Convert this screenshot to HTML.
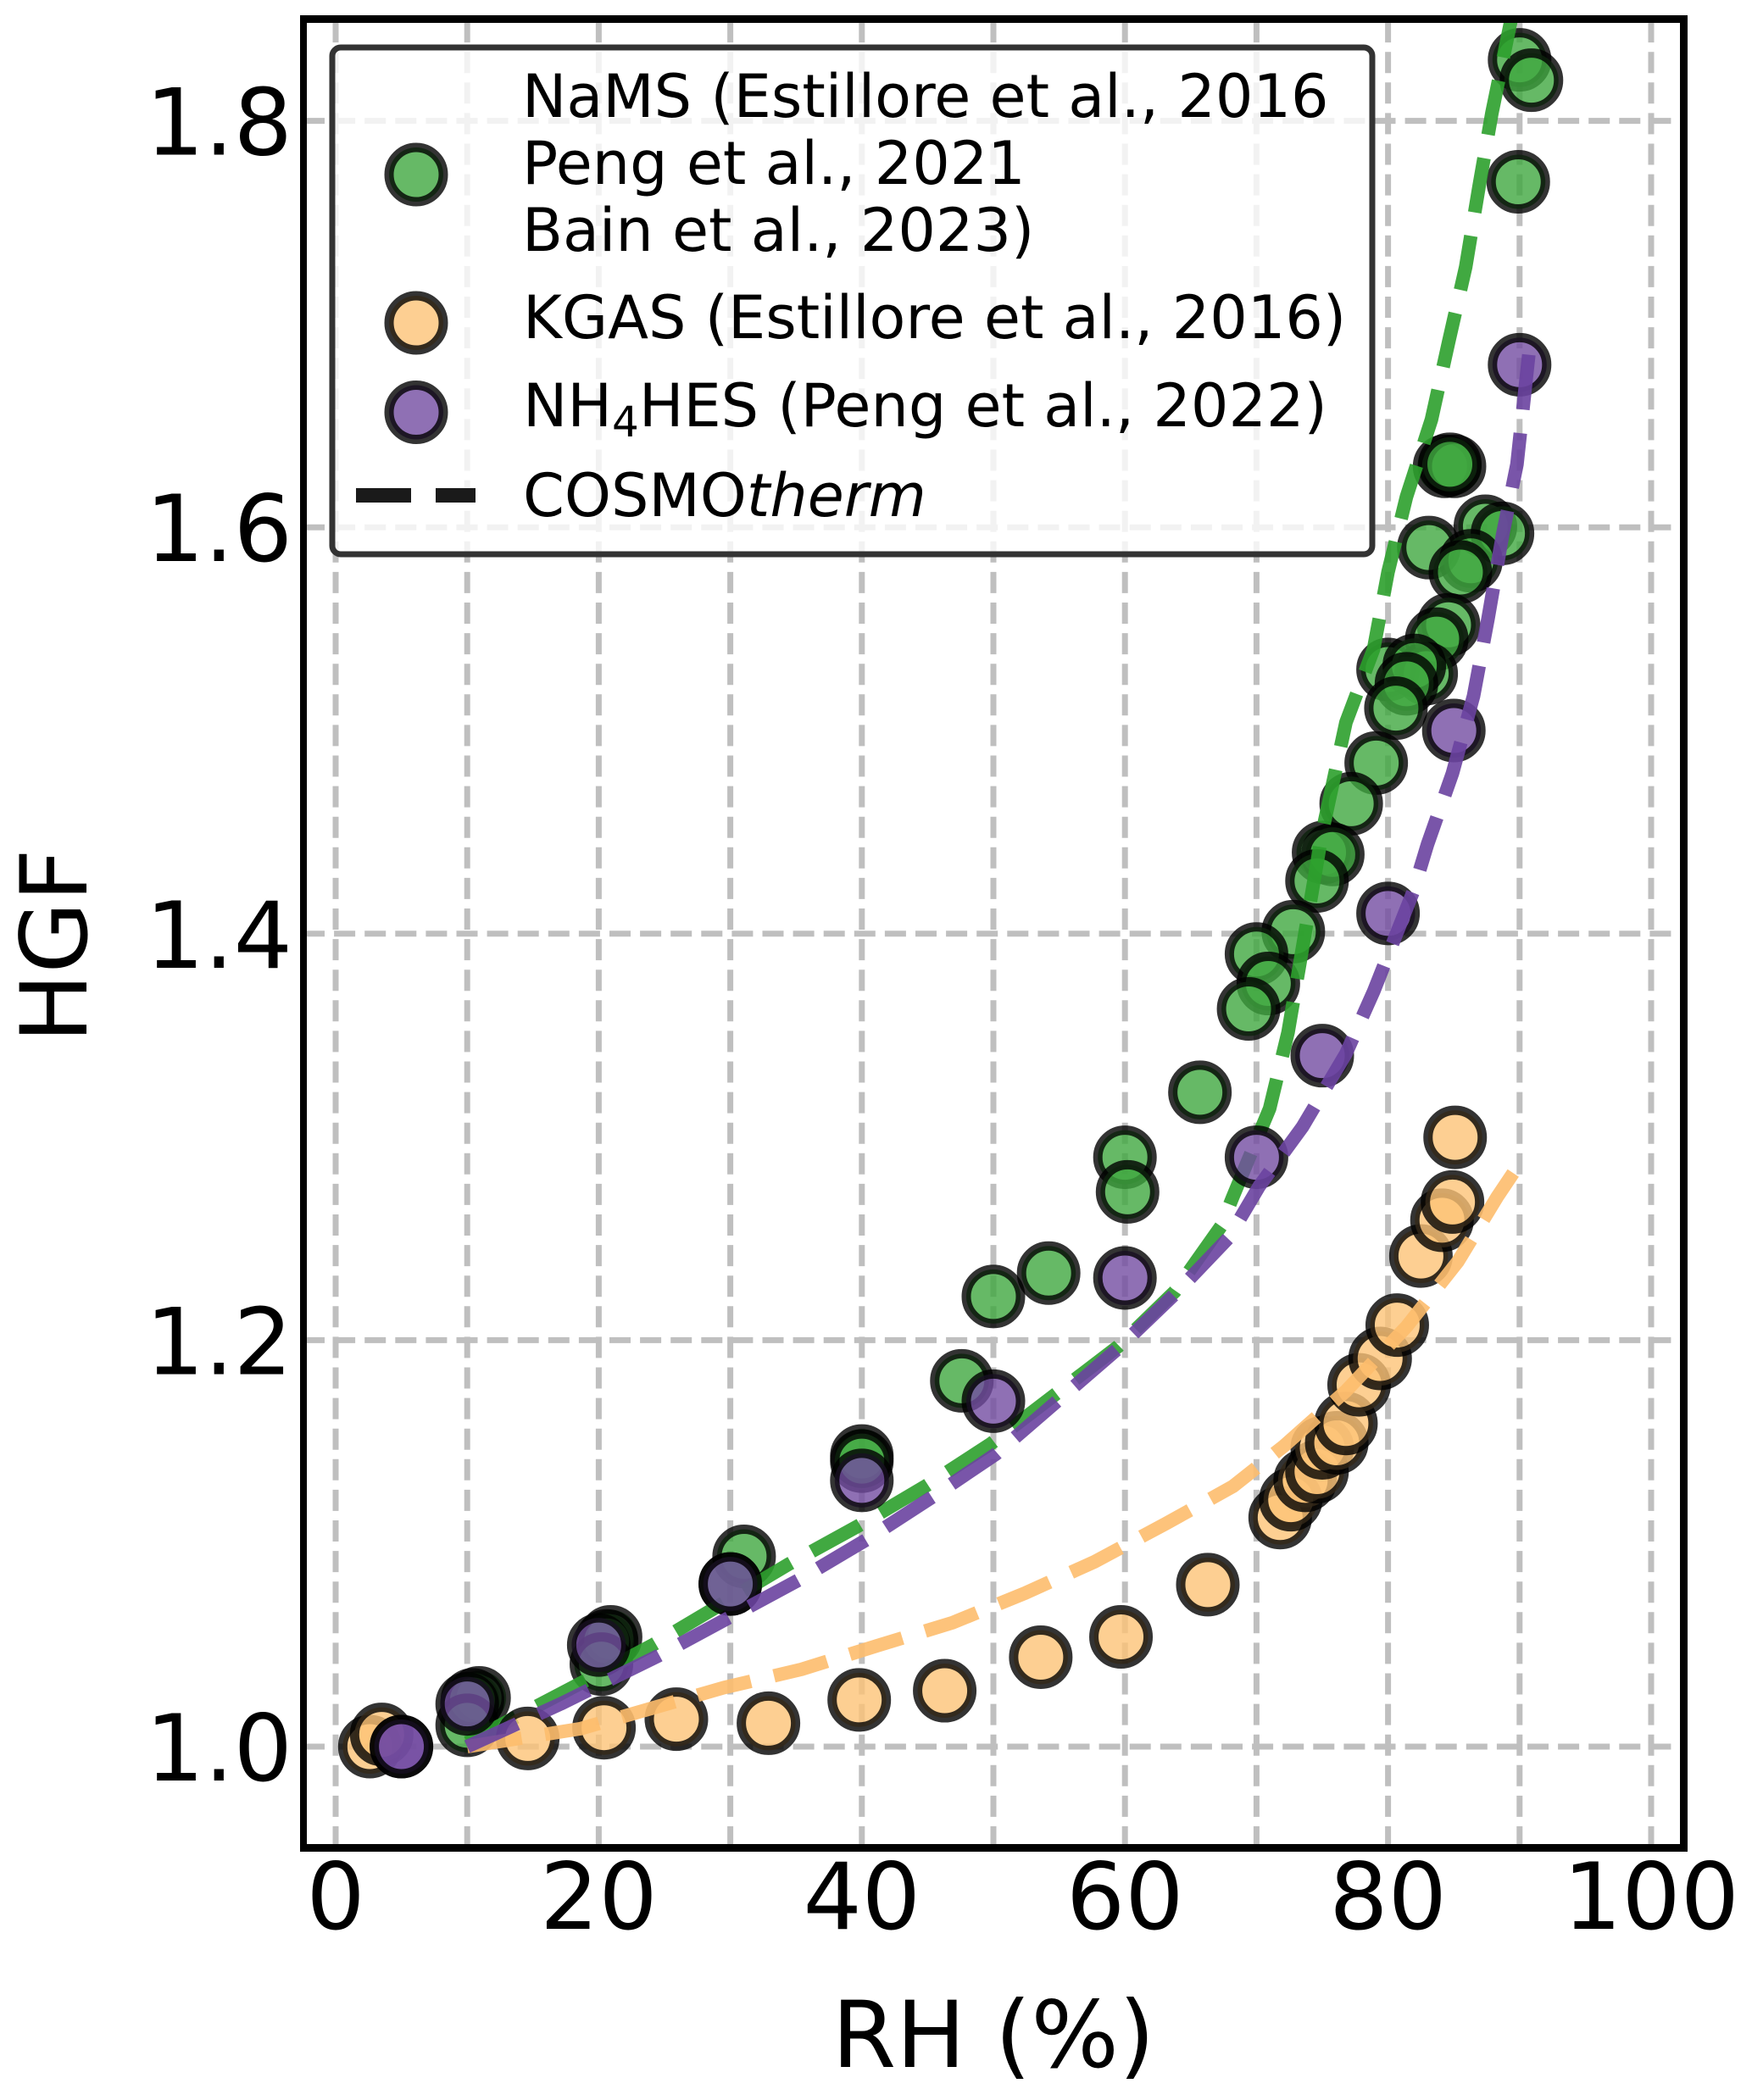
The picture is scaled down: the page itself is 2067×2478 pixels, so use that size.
<!DOCTYPE html>
<html lang="en">
<head>
<meta charset="utf-8">
<title>HGF vs RH</title>
<style>
html,body{margin:0;padding:0;background:#fff;}
svg{display:block;}
text{font-family:"DejaVu Sans","Liberation Sans",sans-serif;fill:#000;}
</style>
</head>
<body>
<svg id="chart" xmlns="http://www.w3.org/2000/svg" width="2067" height="2478" viewBox="0 0 2067 2478">
<defs><clipPath id="plot-clip"><rect x="358" y="23" width="1628" height="2157"/></clipPath></defs>
<rect x="0" y="0" width="2067" height="2478" fill="#fff"/>
<g id="grid"></g>
<g id="plot" clip-path="url(#plot-clip)"></g>
<g id="legend">
<rect x="392" y="56" width="1227" height="598" rx="10" ry="10" fill="#fff" fill-opacity="0.8" stroke="#333" stroke-width="7"/>
<circle cx="491" cy="206" r="32" fill="#40a840" fill-opacity="0.8" stroke="#000" stroke-opacity="0.8" stroke-width="11"/>
<circle cx="491" cy="381" r="32" fill="#fdc377" fill-opacity="0.8" stroke="#000" stroke-opacity="0.8" stroke-width="11"/>
<circle cx="491" cy="486.5" r="32" fill="#734ca1" fill-opacity="0.8" stroke="#000" stroke-opacity="0.8" stroke-width="11"/>
<line x1="420" y1="584.5" x2="561" y2="584.5" stroke="#1a1a1a" stroke-width="17" stroke-dasharray="65 29"/>
<text x="616" y="138" font-size="70">NaMS (Estillore et al., 2016</text>
<text x="616" y="217" font-size="70">Peng et al., 2021</text>
<text x="616" y="296" font-size="70">Bain et al., 2023)</text>
<text x="617" y="399" font-size="70">KGAS (Estillore et al., 2016)</text>
<text x="617" y="503" font-size="70">NH<tspan font-size="50" dy="12">4</tspan><tspan dy="-12">HES (Peng et al., 2022)</tspan></text>
<text x="617" y="609" font-size="70">COSMO<tspan font-style="italic">therm</tspan></text>
</g>
<g id="spines">
<rect x="354" y="18" width="8" height="2167" fill="#000"/>
<rect x="1982" y="18" width="9" height="2167" fill="#000"/>
<rect x="354" y="18" width="1637" height="9" fill="#000"/>
<rect x="354" y="2176" width="1637" height="9" fill="#000"/>
</g>
<g id="ticks"></g>
<text x="1172" y="2439" font-size="109" text-anchor="middle">RH (%)</text>
<text transform="translate(102,1116) rotate(-90)" font-size="109" text-anchor="middle">HGF</text>
</svg>
<script>
const xTicks = [0, 20, 40, 60, 80, 100];
const yTicks = [1.0, 1.2, 1.4, 1.6, 1.8];
const xGrid = [0, 10, 20, 30, 40, 50, 60, 70, 80, 90, 100];
const yGrid = [1.0, 1.2, 1.4, 1.6, 1.8];

const namsRH = [90.0, 90.9, 89.9, 84.3, 85.05, 84.7, 87.4, 88.7, 83.1, 86.3, 85.5, 84.6, 83.7, 80.0, 82.9, 82.0, 81.4, 80.6, 79.1, 77.2, 75.1, 75.8, 74.6, 72.8, 70.0, 70.9, 69.4, 65.7, 60.0, 60.2, 54.2, 50.0, 47.6, 40.0, 40.0, 31.05, 30.0, 20.9, 20.6, 20.2, 10.9, 10.4, 10.0];
const namsHGF = [1.830, 1.820, 1.770, 1.630, 1.630, 1.631, 1.6005, 1.597, 1.590, 1.5835, 1.578, 1.552, 1.545, 1.530, 1.528, 1.532, 1.523, 1.511, 1.484, 1.464, 1.440, 1.439, 1.426, 1.401, 1.390, 1.3755, 1.363, 1.322, 1.290, 1.273, 1.233, 1.2215, 1.180, 1.143, 1.1405, 1.0936, 1.080, 1.054, 1.052, 1.0406, 1.024, 1.023, 1.0105];

const kgasRH = [2.6, 3.5, 14.6, 20.4, 25.9, 32.9, 39.8, 46.3, 53.6, 59.7, 66.3, 71.8, 72.6, 73.7, 74.6, 75.0, 76.1, 76.8, 77.8, 79.4, 80.7, 82.5, 84.1, 84.9, 85.1];
const kgasHGF = [1.000, 1.006, 1.004, 1.0093, 1.0135, 1.0115, 1.023, 1.0275, 1.044, 1.054, 1.0797, 1.1127, 1.1215, 1.131, 1.1353, 1.147, 1.1495, 1.159, 1.178, 1.191, 1.2074, 1.2414, 1.259, 1.268, 1.2998];

const hesRH = [90.0, 85.0, 80.0, 75.0, 70.0, 60.0, 50.0, 40.0, 30.0, 20.0, 10.0, 5.0, 5.0];
const hesHGF = [1.680, 1.500, 1.410, 1.340, 1.290, 1.2306, 1.170, 1.131, 1.080, 1.050, 1.021, 1.000, 1.000];

const modelNamsRH = [10, 17.1, 24.1, 34.5, 39.7, 44.8, 49.8, 59.5, 63.8, 67.3, 68.2, 71, 72.4, 75, 76.8, 78.9, 80, 81.4, 83.3, 84.6, 85.9, 86.9, 87.9, 89.3, 90];
const modelNamsHGF = [1.002, 1.026, 1.050, 1.090, 1.1085, 1.128, 1.149, 1.197, 1.224, 1.256, 1.2705, 1.314, 1.3515, 1.450, 1.504, 1.540, 1.578, 1.615, 1.653, 1.691, 1.728, 1.767, 1.804, 1.848, 1.875];

const modelKgasRH = [10, 18.6, 29.5, 35.4, 41.1, 46.9, 52.4, 57.7, 63.1, 68.2, 72.1, 76.8, 81.4, 85.3, 88.3, 89.8];
const modelKgasHGF = [1.000, 1.0088, 1.029, 1.038, 1.0495, 1.061, 1.0755, 1.091, 1.1097, 1.128, 1.148, 1.175, 1.2066, 1.2386, 1.2705, 1.285];

const modelHesRH = [10, 17.1, 24.5, 35.2, 40.4, 45.4, 50.2, 59.5, 63.8, 67.9, 70.2, 73.5, 76.8, 78.9, 81.9, 83, 84.9, 86.5, 87.6, 88.7, 89.8, 90.7];
const modelHesHGF = [1.000, 1.021, 1.0446, 1.082, 1.102, 1.123, 1.144, 1.196, 1.2227, 1.2505, 1.2757, 1.305, 1.341, 1.3715, 1.4205, 1.444, 1.479, 1.517, 1.555, 1.596, 1.631, 1.685];

const NS = 'http://www.w3.org/2000/svg';
function xScale(v) { return 396 + 15.52 * v; }
function yScale(v) { return 2061 - 2398 * (v - 1); }

const grid = document.getElementById('grid');
const plot = document.getElementById('plot');
const ticks = document.getElementById('ticks');

xGrid.forEach(function (v) {
  const el = document.createElementNS(NS, 'line');
  
  
  el.setAttribute('x1', xScale(v));
  el.setAttribute('x2', xScale(v));
  el.setAttribute('y1', 2180);
  el.setAttribute('y2', 23);
  el.setAttribute('stroke', '#bfbfbf');
  el.setAttribute('stroke-width', 7);
  el.setAttribute('stroke-dasharray', '25 11.1');
  grid.appendChild(el);
});
yGrid.forEach(function (v) {
  const el = document.createElementNS(NS, 'line');
  
  
  el.setAttribute('x1', 358);
  el.setAttribute('x2', 1986);
  el.setAttribute('y1', yScale(v));
  el.setAttribute('y2', yScale(v));
  el.setAttribute('stroke', '#bfbfbf');
  el.setAttribute('stroke-width', 7);
  el.setAttribute('stroke-dasharray', '25 11.1');
  grid.appendChild(el);
});

function drawPoints(rh, hgf, color) {
  rh.forEach(function (v, i) {
    const el = document.createElementNS(NS, 'circle');
    
    
    el.setAttribute('cx', xScale(v));
    el.setAttribute('cy', yScale(hgf[i]));
    el.setAttribute('r', 32);
    el.setAttribute('fill', color);
    el.setAttribute('fill-opacity', 0.8);
    el.setAttribute('stroke', '#000');
    el.setAttribute('stroke-opacity', 0.8);
    el.setAttribute('stroke-width', 11);
    plot.appendChild(el);
  });
}
function drawModel(rh, hgf, color) {
  const el = document.createElementNS(NS, 'polyline');
  
  
  el.setAttribute('points', rh.map(function (v, i) { return xScale(v) + ',' + yScale(hgf[i]); }).join(' '));
  el.setAttribute('fill', 'none');
  el.setAttribute('stroke', color);
  el.setAttribute('stroke-opacity', 0.9);
  el.setAttribute('stroke-width', 16);
  el.setAttribute('stroke-dasharray', '65 28');
  el.setAttribute('stroke-linejoin', 'round');
  plot.appendChild(el);
}
drawPoints(namsRH, namsHGF, '#40a840');
drawModel(modelNamsRH, modelNamsHGF, '#2ca02c');
drawPoints(kgasRH, kgasHGF, '#fdc377');
drawModel(modelKgasRH, modelKgasHGF, '#fdbc6d');
drawPoints(hesRH, hesHGF, '#734ca1');
drawModel(modelHesRH, modelHesHGF, '#6a42a0');

xTicks.forEach(function (v) {
  const el = document.createElementNS(NS, 'text');
  
  
  el.setAttribute('x', xScale(v));
  el.setAttribute('y', 2276);
  el.setAttribute('font-size', 109);
  el.setAttribute('text-anchor', 'middle');
  el.textContent = String(v);
  ticks.appendChild(el);
});
yTicks.forEach(function (v) {
  const el = document.createElementNS(NS, 'text');
  
  
  el.setAttribute('x', 345);
  el.setAttribute('y', yScale(v) + 40);
  el.setAttribute('font-size', 109);
  el.setAttribute('text-anchor', 'end');
  el.textContent = v.toFixed(1);
  ticks.appendChild(el);
});
</script>
</body>
</html>
